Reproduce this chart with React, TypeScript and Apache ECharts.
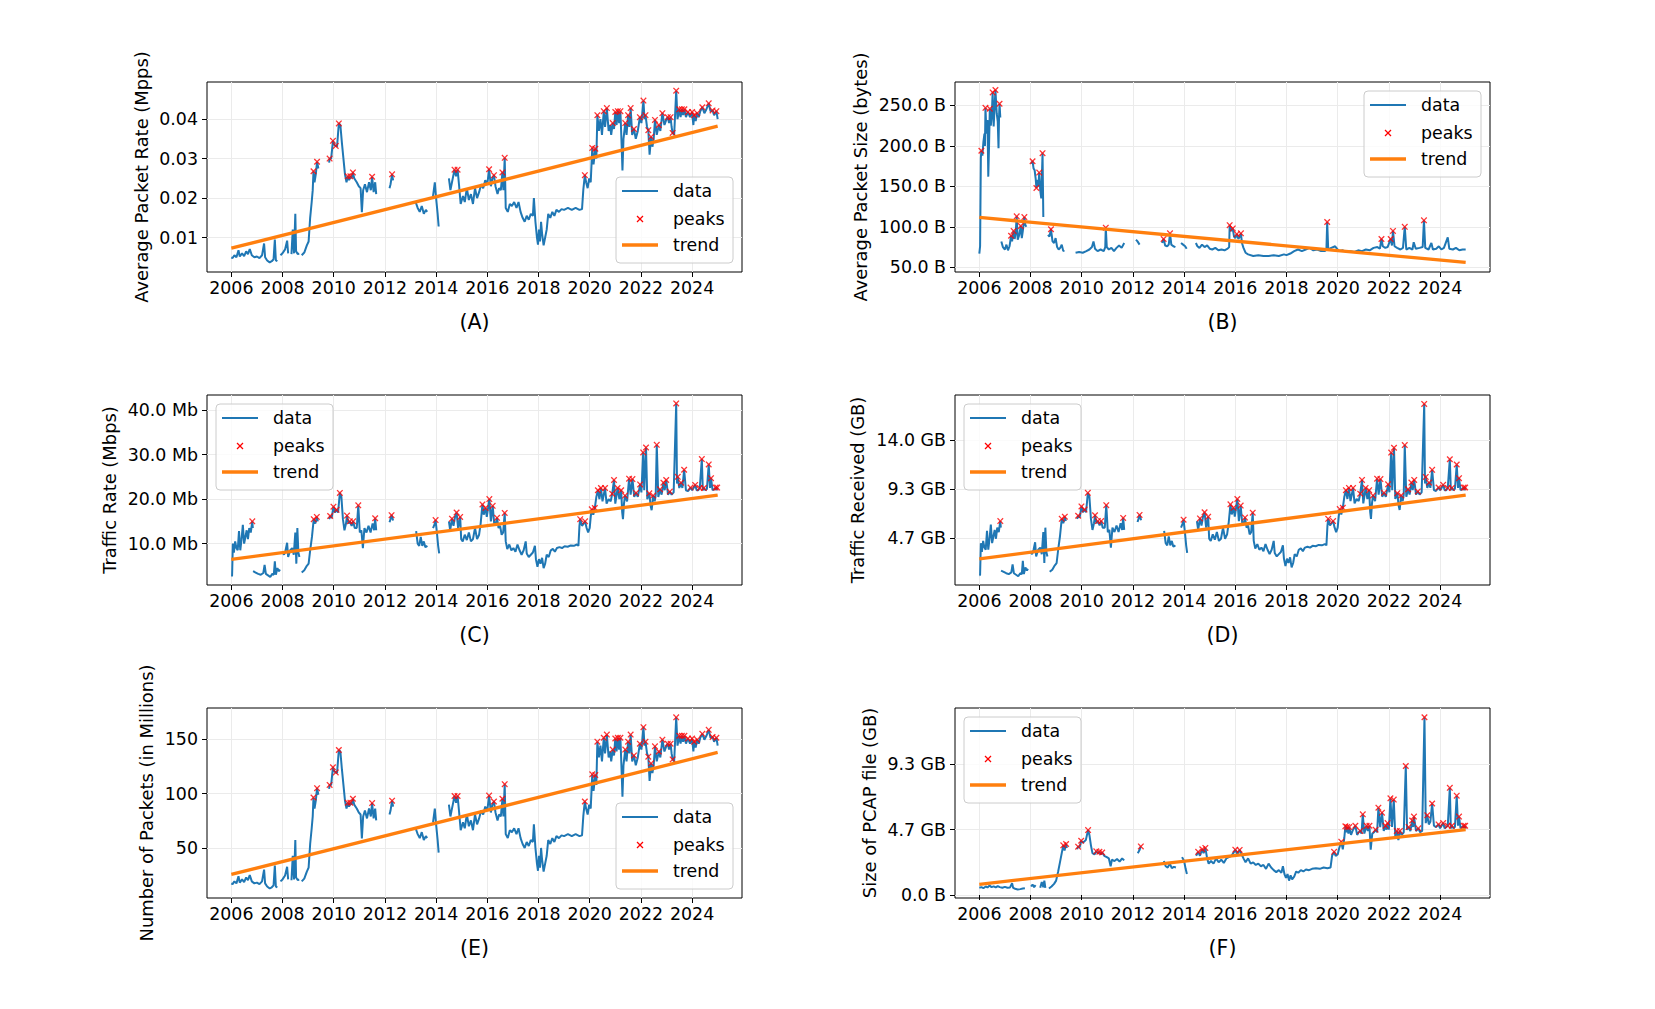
import React, { useEffect, useRef } from 'react';
import * as echarts from 'echarts';

type P = [number, number | null];

// ---------- (A) Average packet rate (Mpps) ----------
const rateA: P[] = [
[2006.00,0.0050],[2006.05,0.0048],[2006.12,0.0055],[2006.20,0.0050],[2006.28,0.0068],[2006.33,0.0052],[2006.42,0.0060],[2006.50,0.0053],[2006.58,0.0065],[2006.65,0.0058],[2006.72,0.0071],[2006.80,0.0055],[2006.90,0.0050],[2007.00,0.0052],[2007.10,0.0048],[2007.20,0.0055],[2007.28,0.0085],[2007.32,0.0050],[2007.40,0.0042],[2007.50,0.0037],[2007.58,0.0040],[2007.65,0.0045],[2007.70,0.0095],[2007.74,0.0042],[2007.80,0.0040],[2007.86,null],
[2007.92,0.0055],[2008.00,0.0060],[2008.10,0.0070],[2008.18,0.0092],[2008.22,0.0060],[2008.28,null],
[2008.35,0.0058],[2008.40,0.0120],[2008.45,0.0060],[2008.50,0.0160],[2008.53,0.0065],[2008.60,0.0058],[2008.65,0.0060],[2008.70,null],
[2008.75,0.0055],[2008.85,0.0062],[2008.95,0.0080],[2009.02,0.0090],[2009.08,0.0150],[2009.14,0.0190],[2009.18,0.0220],[2009.21,0.0268],[2009.25,0.0240],[2009.30,0.0260],[2009.35,0.0292],[2009.40,0.0275],[2009.60,null],
[2009.82,0.0290],[2009.84,0.0300],[2009.90,0.0300],[2009.97,0.0345],[2010.02,0.0335],[2010.08,0.0332],[2010.13,0.0330],[2010.20,0.0389],[2010.26,0.0385],[2010.32,0.0340],[2010.38,0.0300],[2010.44,0.0260],[2010.50,0.0240],[2010.55,0.0255],[2010.60,0.0245],[2010.65,0.0255],[2010.70,0.0250],[2010.75,0.0265],[2010.80,0.0250],[2010.90,0.0240],[2010.98,0.0230],[2011.05,0.0225],[2011.10,0.0164],[2011.15,0.0220],[2011.22,0.0235],[2011.30,0.0215],[2011.38,0.0240],[2011.45,0.0220],[2011.50,0.0254],[2011.56,0.0215],[2011.62,0.0240],[2011.66,0.0210],[2011.90,null],
[2012.18,0.0225],[2012.22,0.0235],[2012.28,0.0260],[2012.32,0.0245],[2012.80,null],
[2013.20,0.0190],[2013.28,0.0175],[2013.36,0.0165],[2013.44,0.0180],[2013.52,0.0160],[2013.60,0.0170],[2013.65,0.0165],[2013.80,null],
[2013.88,0.0205],[2013.95,0.0240],[2014.00,0.0200],[2014.06,0.0160],[2014.10,0.0128],[2014.30,null],
[2014.50,0.0250],[2014.56,0.0220],[2014.62,0.0240],[2014.72,0.0272],[2014.78,0.0255],[2014.84,0.0272],[2014.90,0.0230],[2014.96,0.0185],[2015.05,0.0205],[2015.12,0.0190],[2015.20,0.0225],[2015.28,0.0195],[2015.36,0.0210],[2015.44,0.0185],[2015.52,0.0225],[2015.60,0.0200],[2015.68,0.0215],[2015.76,0.0235],[2015.84,0.0225],[2015.92,0.0245],[2016.00,0.0235],[2016.07,0.0273],[2016.14,0.0230],[2016.20,0.0250],[2016.26,0.0258],[2016.32,0.0230],[2016.40,0.0210],[2016.46,0.0225],[2016.53,0.0220],[2016.59,0.0265],[2016.63,0.0220],[2016.68,0.0302],[2016.72,0.0175],[2016.80,0.0165],[2016.88,0.0185],[2016.96,0.0180],[2017.05,0.0190],[2017.14,0.0175],[2017.22,0.0190],[2017.30,0.0165],[2017.38,0.0150],[2017.46,0.0140],[2017.54,0.0155],[2017.62,0.0145],[2017.70,0.0160],[2017.78,0.0155],[2017.82,0.0200],[2017.88,0.0140],[2017.94,0.0100],[2017.98,0.0082],[2018.02,0.0120],[2018.06,0.0090],[2018.10,0.0140],[2018.14,0.0110],[2018.20,0.0080],[2018.26,0.0100],[2018.32,0.0120],[2018.38,0.0160],[2018.46,0.0150],[2018.54,0.0165],[2018.62,0.0155],[2018.70,0.0170],[2018.80,0.0165],[2018.90,0.0172],[2019.00,0.0170],[2019.15,0.0175],[2019.30,0.0170],[2019.45,0.0175],[2019.60,0.0170],[2019.70,0.0172],[2019.75,0.0220],[2019.81,0.0258],[2019.86,0.0240],[2019.92,0.0225],[2019.98,0.0250],[2020.04,0.0240],[2020.10,0.0327],[2020.15,0.0285],[2020.22,0.0325],[2020.26,0.0300],[2020.30,0.0410],[2020.36,0.0370],[2020.42,0.0400],[2020.48,0.0360],[2020.55,0.0420],[2020.60,0.0380],[2020.67,0.0428],[2020.74,0.0370],[2020.80,0.0385],[2020.84,0.0360],[2020.90,0.0390],[2020.95,0.0375],[2021.00,0.0418],[2021.05,0.0385],[2021.10,0.0420],[2021.15,0.0390],[2021.20,0.0420],[2021.25,0.0330],[2021.28,0.0270],[2021.32,0.0350],[2021.39,0.0390],[2021.44,0.0360],[2021.50,0.0410],[2021.55,0.0380],[2021.60,0.0428],[2021.66,0.0360],[2021.73,0.0375],[2021.80,0.0350],[2021.88,0.0370],[2021.96,0.0405],[2022.02,0.0390],[2022.10,0.0447],[2022.14,0.0400],[2022.18,0.0410],[2022.24,0.0380],[2022.29,0.0372],[2022.34,0.0310],[2022.40,0.0355],[2022.45,0.0330],[2022.50,0.0350],[2022.55,0.0398],[2022.62,0.0360],[2022.70,0.0385],[2022.76,0.0370],[2022.84,0.0415],[2022.92,0.0385],[2023.00,0.0400],[2023.05,0.0405],[2023.10,0.0390],[2023.16,0.0405],[2023.20,0.0380],[2023.24,0.0365],[2023.30,0.0360],[2023.38,0.0472],[2023.43,0.0400],[2023.50,0.0425],[2023.55,0.0405],[2023.60,0.0425],[2023.65,0.0410],[2023.70,0.0425],[2023.76,0.0405],[2023.84,0.0418],[2023.92,0.0405],[2024.00,0.0418],[2024.05,0.0385],[2024.08,0.0410],[2024.14,0.0395],[2024.20,0.0415],[2024.26,0.0405],[2024.32,0.0420],[2024.40,0.0430],[2024.48,0.0415],[2024.56,0.0425],[2024.65,0.0440],[2024.72,0.0420],[2024.80,0.0422],[2024.86,0.0410],[2024.95,0.0420],[2025.00,0.0400]
];
const peaksA: P[] = [
[2009.21,0.0268],[2009.35,0.0292],[2009.84,0.0300],[2009.97,0.0345],[2010.08,0.0332],[2010.20,0.0389],[2010.55,0.0255],[2010.65,0.0255],[2010.75,0.0265],[2011.50,0.0254],[2012.28,0.0260],[2014.72,0.0272],[2014.84,0.0272],[2016.07,0.0273],[2016.26,0.0258],[2016.59,0.0265],[2016.68,0.0302],[2019.81,0.0258],[2020.10,0.0327],[2020.22,0.0325],[2020.30,0.0410],[2020.55,0.0420],[2020.67,0.0428],[2020.90,0.0390],[2021.00,0.0418],[2021.10,0.0420],[2021.20,0.0420],[2021.39,0.0390],[2021.50,0.0410],[2021.60,0.0428],[2021.73,0.0375],[2021.96,0.0405],[2022.10,0.0447],[2022.18,0.0410],[2022.29,0.0372],[2022.40,0.0355],[2022.55,0.0398],[2022.70,0.0385],[2022.84,0.0415],[2023.05,0.0405],[2023.16,0.0405],[2023.24,0.0365],[2023.38,0.0472],[2023.50,0.0425],[2023.60,0.0425],[2023.70,0.0425],[2023.84,0.0418],[2024.00,0.0418],[2024.08,0.0410],[2024.20,0.0415],[2024.40,0.0430],[2024.65,0.0440],[2024.80,0.0422],[2024.95,0.0420]
];
const trendA: P[] = [[2006.0,0.0073],[2025.0,0.0382]];

// ---------- (B) Average packet size (bytes) ----------
const sizeB: P[] = [
[2006.00,67],[2006.03,76],[2006.06,185],[2006.08,194],[2006.12,188],[2006.16,205],[2006.20,215],[2006.22,200],[2006.24,247],[2006.28,215],[2006.32,232],[2006.35,162],[2006.38,200],[2006.41,246],[2006.45,225],[2006.49,240],[2006.52,266],[2006.56,224],[2006.60,250],[2006.63,269],[2006.68,240],[2006.72,230],[2006.75,197],[2006.77,235],[2006.79,252],[2006.82,235],[2006.84,null],
[2006.86,82],[2006.92,75],[2007.00,72],[2007.06,78],[2007.12,71],[2007.18,76],[2007.22,84],[2007.24,89],[2007.28,82],[2007.34,95],[2007.38,85],[2007.42,92],[2007.46,113],[2007.50,84],[2007.56,90],[2007.62,101],[2007.66,86],[2007.70,95],[2007.76,112],[2007.80,102],[2007.84,100],[2007.90,null],
[2008.03,178],[2008.08,181],[2008.12,172],[2008.16,170],[2008.20,160],[2008.23,148],[2008.27,158],[2008.31,150],[2008.34,167],[2008.38,145],[2008.42,135],[2008.47,191],[2008.50,112],[2008.60,null],
[2008.68,90],[2008.74,88],[2008.80,97],[2008.86,82],[2008.92,80],[2008.98,86],[2009.04,75],[2009.10,72],[2009.16,74],[2009.22,78],[2009.28,70],[2009.32,71],[2009.50,null],
[2009.76,68],[2009.90,69],[2010.04,68],[2010.18,70],[2010.30,72],[2010.40,75],[2010.46,82],[2010.52,73],[2010.62,70],[2010.74,72],[2010.86,70],[2010.92,75],[2010.94,99],[2010.98,75],[2011.06,72],[2011.16,74],[2011.26,70],[2011.36,74],[2011.46,77],[2011.56,74],[2011.66,80],[2011.90,null],
[2012.12,84],[2012.18,82],[2012.26,78],[2012.60,null],
[2013.14,80],[2013.20,85],[2013.26,77],[2013.34,76],[2013.40,78],[2013.45,92],[2013.50,78],[2013.58,76],[2013.66,75],[2013.78,null],
[2013.88,80],[2013.96,78],[2014.04,76],[2014.10,73],[2014.30,null],
[2014.46,80],[2014.52,76],[2014.60,74],[2014.70,78],[2014.80,75],[2014.90,77],[2015.00,73],[2015.10,72],[2015.22,74],[2015.34,71],[2015.46,72],[2015.58,71],[2015.70,73],[2015.76,75],[2015.78,102],[2015.84,95],[2015.90,98],[2015.95,88],[2016.00,86],[2016.06,91],[2016.12,85],[2016.18,88],[2016.22,92],[2016.26,80],[2016.32,74],[2016.40,68],[2016.50,66],[2016.70,64],[2016.90,65],[2017.10,64],[2017.30,64],[2017.50,65],[2017.70,64],[2017.90,66],[2018.00,65],[2018.15,67],[2018.30,70],[2018.45,72],[2018.60,70],[2018.75,72],[2018.90,74],[2019.05,71],[2019.20,72],[2019.35,70],[2019.50,70],[2019.56,72],[2019.59,106],[2019.63,72],[2019.75,74],[2019.90,76],[2020.05,70],[2020.20,71],[2020.35,69],[2020.50,70],[2020.65,69],[2020.80,71],[2020.95,70],[2021.10,72],[2021.25,71],[2021.40,74],[2021.55,75],[2021.65,73],[2021.71,85],[2021.76,76],[2021.86,74],[2021.95,75],[2022.07,85],[2022.12,77],[2022.16,95],[2022.22,76],[2022.32,74],[2022.45,72],[2022.55,74],[2022.62,100],[2022.68,72],[2022.80,74],[2022.92,72],[2022.97,81],[2023.05,73],[2023.20,74],[2023.32,75],[2023.37,108],[2023.42,74],[2023.55,72],[2023.66,80],[2023.72,72],[2023.85,73],[2023.95,76],[2024.05,72],[2024.15,74],[2024.30,87],[2024.36,73],[2024.50,72],[2024.62,74],[2024.75,71],[2024.88,72],[2025.00,72]
];
const peaksB: P[] = [
[2006.08,194],[2006.24,247],[2006.41,246],[2006.52,266],[2006.63,269],[2006.79,252],[2007.24,89],[2007.34,95],[2007.46,113],[2007.62,101],[2007.76,112],[2008.08,181],[2008.23,148],[2008.34,167],[2008.47,191],[2008.80,97],[2010.94,99],[2013.20,85],[2013.45,92],[2015.78,102],[2015.90,98],[2016.06,91],[2016.22,92],[2019.59,106],[2021.71,85],[2022.07,85],[2022.16,95],[2022.62,100],[2023.37,108]
];
const trendB: P[] = [[2006.0,111.6],[2025.0,56.0]];

// ---------- (C) Traffic rate (Mbps) ----------
const rateC: P[] = [
[2006.00,2.7],[2006.03,2.8],[2006.06,10.0],[2006.10,8.0],[2006.15,10.5],[2006.20,9.0],[2006.25,8.5],[2006.30,12.8],[2006.35,8.5],[2006.40,11.0],[2006.45,14.2],[2006.50,10.0],[2006.55,11.5],[2006.60,13.0],[2006.65,11.0],[2006.70,13.5],[2006.76,12.5],[2006.82,15.0],[2006.84,13.5],[2006.845,null],
[2006.85,3.8],[2006.95,3.5],[2007.05,3.2],[2007.15,3.0],[2007.25,3.4],[2007.30,5.2],[2007.35,3.2],[2007.45,2.8],[2007.52,2.5],[2007.60,3.2],[2007.66,3.0],[2007.70,6.0],[2007.74,3.0],[2007.80,4.5],[2007.86,3.8],[2007.90,4.2],[2007.95,null],
[2008.00,8.0],[2008.06,7.5],[2008.12,8.5],[2008.18,10.2],[2008.22,7.0],[2008.30,8.5],[2008.38,9.0],[2008.44,7.5],[2008.50,12.5],[2008.54,5.5],[2008.58,13.5],[2008.62,8.0],[2008.66,7.0],[2008.70,null],
[2008.75,3.5],[2008.85,4.0],[2008.95,5.0],[2009.02,5.5],[2009.08,8.5],[2009.15,11.5],[2009.22,15.5],[2009.28,14.5],[2009.34,16.0],[2009.38,15.0],[2009.60,null],
[2009.82,15.5],[2009.86,16.2],[2009.92,15.8],[2009.99,18.3],[2010.05,17.0],[2010.11,17.6],[2010.17,17.0],[2010.24,21.4],[2010.30,20.5],[2010.36,15.5],[2010.42,13.0],[2010.48,14.5],[2010.52,16.3],[2010.58,14.5],[2010.63,15.0],[2010.70,14.0],[2010.76,15.0],[2010.82,13.5],[2010.90,13.5],[2010.96,18.6],[2011.02,12.5],[2011.08,13.0],[2011.14,9.0],[2011.20,13.5],[2011.28,12.5],[2011.36,14.0],[2011.44,12.5],[2011.52,14.5],[2011.58,13.0],[2011.62,15.7],[2011.66,13.0],[2011.90,null],
[2012.18,14.8],[2012.22,15.5],[2012.26,16.4],[2012.32,15.2],[2012.80,null],
[2013.22,12.8],[2013.28,10.0],[2013.34,9.5],[2013.40,11.5],[2013.46,9.5],[2013.52,10.5],[2013.58,9.2],[2013.66,9.5],[2013.78,null],
[2013.88,13.5],[2013.95,14.5],[2013.98,15.3],[2014.04,12.0],[2014.08,9.5],[2014.12,7.8],[2014.30,null],
[2014.50,15.0],[2014.55,13.0],[2014.62,15.6],[2014.68,14.0],[2014.74,16.0],[2014.80,17.0],[2014.86,13.5],[2014.94,16.0],[2014.98,11.0],[2015.04,10.5],[2015.12,12.0],[2015.20,10.8],[2015.28,12.5],[2015.36,10.5],[2015.44,11.0],[2015.52,13.5],[2015.60,11.0],[2015.68,12.0],[2015.74,14.5],[2015.81,18.8],[2015.86,16.5],[2015.93,18.0],[2015.98,16.0],[2016.08,20.0],[2016.14,15.0],[2016.21,18.5],[2016.27,14.5],[2016.33,14.5],[2016.38,15.8],[2016.44,13.5],[2016.50,14.0],[2016.56,12.0],[2016.62,12.5],[2016.68,16.9],[2016.72,10.5],[2016.78,8.8],[2016.86,9.8],[2016.94,8.5],[2017.02,9.0],[2017.10,8.2],[2017.18,9.8],[2017.26,8.5],[2017.34,7.5],[2017.42,8.5],[2017.50,10.5],[2017.54,7.8],[2017.62,7.0],[2017.70,7.5],[2017.78,8.0],[2017.86,9.5],[2017.90,6.5],[2017.96,4.8],[2018.02,6.5],[2018.08,5.5],[2018.14,6.8],[2018.20,4.5],[2018.26,5.5],[2018.32,7.5],[2018.40,7.0],[2018.48,8.5],[2018.56,8.8],[2018.64,8.2],[2018.72,9.0],[2018.82,9.2],[2018.92,9.0],[2019.02,9.4],[2019.14,9.3],[2019.26,9.6],[2019.38,9.5],[2019.50,9.8],[2019.56,9.5],[2019.60,14.0],[2019.63,15.5],[2019.70,14.0],[2019.76,14.5],[2019.82,15.0],[2019.88,13.5],[2019.94,12.5],[2020.00,13.5],[2020.04,16.0],[2020.08,17.7],[2020.14,16.5],[2020.20,18.0],[2020.26,20.5],[2020.32,22.0],[2020.38,20.0],[2020.44,22.5],[2020.50,19.5],[2020.55,21.0],[2020.60,22.5],[2020.66,19.0],[2020.74,20.0],[2020.82,19.5],[2020.88,21.2],[2020.95,24.3],[2021.00,19.0],[2021.04,20.5],[2021.09,22.5],[2021.16,20.0],[2021.23,22.0],[2021.27,17.0],[2021.30,15.5],[2021.34,19.0],[2021.38,20.8],[2021.46,19.5],[2021.54,24.6],[2021.60,21.0],[2021.67,24.5],[2021.74,20.5],[2021.81,21.4],[2021.88,20.5],[2021.97,23.3],[2022.02,21.5],[2022.09,30.5],[2022.13,22.0],[2022.20,31.6],[2022.25,20.0],[2022.33,21.3],[2022.38,18.5],[2022.42,17.5],[2022.48,20.8],[2022.54,19.5],[2022.58,21.0],[2022.62,32.2],[2022.68,20.5],[2022.75,22.2],[2022.81,21.0],[2022.88,23.7],[2022.93,22.0],[2022.99,24.3],[2023.06,21.0],[2023.13,21.7],[2023.20,21.0],[2023.28,21.5],[2023.38,41.5],[2023.41,23.5],[2023.44,25.0],[2023.50,22.5],[2023.57,23.7],[2023.62,22.5],[2023.69,26.6],[2023.76,22.0],[2023.84,21.8],[2023.94,22.6],[2024.00,22.0],[2024.06,22.5],[2024.12,23.2],[2024.18,22.0],[2024.24,22.0],[2024.30,22.5],[2024.38,29.0],[2024.42,22.0],[2024.46,22.5],[2024.52,22.0],[2024.58,22.3],[2024.65,27.8],[2024.70,22.5],[2024.74,24.7],[2024.80,22.0],[2024.86,22.2],[2024.92,22.6],[2024.95,22.0],[2024.98,22.6],[2025.00,22.3]
];
const peaksC: P[] = [
[2006.82,15.0],[2009.22,15.5],[2009.34,16.0],[2009.86,16.2],[2009.99,18.3],[2010.11,17.6],[2010.24,21.4],[2010.52,16.3],[2010.63,15.0],[2010.76,15.0],[2010.96,18.6],[2011.62,15.7],[2012.26,16.4],[2013.98,15.3],[2014.62,15.6],[2014.80,17.0],[2014.94,16.0],[2015.81,18.8],[2015.93,18.0],[2016.08,20.0],[2016.21,18.5],[2016.38,15.8],[2016.68,16.9],[2019.63,15.5],[2019.82,15.0],[2020.08,17.7],[2020.20,18.0],[2020.32,22.0],[2020.44,22.5],[2020.60,22.5],[2020.88,21.2],[2020.95,24.3],[2021.09,22.5],[2021.23,22.0],[2021.38,20.8],[2021.54,24.6],[2021.67,24.5],[2021.81,21.4],[2021.97,23.3],[2022.09,30.5],[2022.20,31.6],[2022.33,21.3],[2022.48,20.8],[2022.62,32.2],[2022.75,22.2],[2022.88,23.7],[2022.99,24.3],[2023.13,21.7],[2023.38,41.5],[2023.44,25.0],[2023.57,23.7],[2023.69,26.6],[2023.94,22.6],[2024.12,23.2],[2024.30,22.5],[2024.38,29.0],[2024.46,22.5],[2024.65,27.8],[2024.74,24.7],[2024.92,22.6],[2024.98,22.6]
];
const trendC: P[] = [[2006.0,6.45],[2025.0,20.9]];

// ---------- (D) Traffic received (1e9 bytes) ----------
const recvD: P[] = [
[2006.00,1.22],[2006.03,1.26],[2006.06,4.50],[2006.10,3.60],[2006.15,4.73],[2006.20,4.05],[2006.25,3.83],[2006.30,5.76],[2006.35,3.83],[2006.40,4.95],[2006.45,6.39],[2006.50,4.50],[2006.55,5.18],[2006.60,5.85],[2006.65,4.95],[2006.70,6.08],[2006.76,5.63],[2006.82,6.75],[2006.84,6.08],[2006.845,null],
[2006.85,1.71],[2006.95,1.58],[2007.05,1.44],[2007.15,1.35],[2007.25,1.53],[2007.30,2.34],[2007.35,1.44],[2007.45,1.26],[2007.52,1.13],[2007.60,1.44],[2007.66,1.35],[2007.70,2.70],[2007.74,1.35],[2007.80,2.03],[2007.86,1.71],[2007.90,1.89],[2007.95,null],
[2008.00,3.60],[2008.06,3.38],[2008.12,3.83],[2008.18,4.59],[2008.22,3.15],[2008.30,3.83],[2008.38,4.05],[2008.44,3.38],[2008.50,5.63],[2008.54,2.48],[2008.58,6.08],[2008.62,3.60],[2008.66,3.15],[2008.70,null],
[2008.75,1.58],[2008.85,1.80],[2008.95,2.25],[2009.02,2.48],[2009.08,3.83],[2009.15,5.18],[2009.22,6.98],[2009.28,6.53],[2009.34,7.20],[2009.38,6.75],[2009.60,null],
[2009.82,6.98],[2009.86,7.29],[2009.92,7.11],[2009.99,8.24],[2010.05,7.65],[2010.11,7.92],[2010.17,7.65],[2010.24,9.63],[2010.30,9.23],[2010.36,6.98],[2010.42,5.85],[2010.48,6.53],[2010.52,7.34],[2010.58,6.53],[2010.63,6.75],[2010.70,6.30],[2010.76,6.75],[2010.82,6.08],[2010.90,6.08],[2010.96,8.37],[2011.02,5.63],[2011.08,5.85],[2011.14,4.05],[2011.20,6.08],[2011.28,5.63],[2011.36,6.30],[2011.44,5.63],[2011.52,6.53],[2011.58,5.85],[2011.62,7.07],[2011.66,5.85],[2011.90,null],
[2012.18,6.66],[2012.22,6.98],[2012.26,7.38],[2012.32,6.84],[2012.80,null],
[2013.22,5.76],[2013.28,4.50],[2013.34,4.28],[2013.40,5.18],[2013.46,4.28],[2013.52,4.73],[2013.58,4.14],[2013.66,4.28],[2013.78,null],
[2013.88,6.08],[2013.95,6.53],[2013.98,6.89],[2014.04,5.40],[2014.08,4.28],[2014.12,3.51],[2014.30,null],
[2014.50,6.75],[2014.55,5.85],[2014.62,7.02],[2014.68,6.30],[2014.74,7.20],[2014.80,7.65],[2014.86,6.08],[2014.94,7.20],[2014.98,4.95],[2015.04,4.73],[2015.12,5.40],[2015.20,4.86],[2015.28,5.63],[2015.36,4.73],[2015.44,4.95],[2015.52,6.08],[2015.60,4.95],[2015.68,5.40],[2015.74,6.53],[2015.81,8.46],[2015.86,7.43],[2015.93,8.10],[2015.98,7.20],[2016.08,9.00],[2016.14,6.75],[2016.21,8.33],[2016.27,6.53],[2016.33,6.53],[2016.38,7.11],[2016.44,6.08],[2016.50,6.30],[2016.56,5.40],[2016.62,5.63],[2016.68,7.61],[2016.72,4.73],[2016.78,3.96],[2016.86,4.41],[2016.94,3.83],[2017.02,4.05],[2017.10,3.69],[2017.18,4.41],[2017.26,3.83],[2017.34,3.38],[2017.42,3.83],[2017.50,4.73],[2017.54,3.51],[2017.62,3.15],[2017.70,3.38],[2017.78,3.60],[2017.86,4.28],[2017.90,2.93],[2017.96,2.16],[2018.02,2.93],[2018.08,2.48],[2018.14,3.06],[2018.20,2.03],[2018.26,2.48],[2018.32,3.38],[2018.40,3.15],[2018.48,3.83],[2018.56,3.96],[2018.64,3.69],[2018.72,4.05],[2018.82,4.14],[2018.92,4.05],[2019.02,4.23],[2019.14,4.19],[2019.26,4.32],[2019.38,4.28],[2019.50,4.41],[2019.56,4.28],[2019.60,6.30],[2019.63,6.98],[2019.70,6.30],[2019.76,6.53],[2019.82,6.75],[2019.88,6.08],[2019.94,5.63],[2020.00,6.08],[2020.04,7.20],[2020.08,7.97],[2020.14,7.43],[2020.20,8.10],[2020.26,9.23],[2020.32,9.90],[2020.38,9.00],[2020.44,10.13],[2020.50,8.78],[2020.55,9.45],[2020.60,10.13],[2020.66,8.55],[2020.74,9.00],[2020.82,8.78],[2020.88,9.54],[2020.95,10.94],[2021.00,8.55],[2021.04,9.23],[2021.09,10.13],[2021.16,9.00],[2021.23,9.90],[2021.27,7.65],[2021.30,6.98],[2021.34,8.55],[2021.38,9.36],[2021.46,8.78],[2021.54,11.07],[2021.60,9.45],[2021.67,11.03],[2021.74,9.23],[2021.81,9.63],[2021.88,9.23],[2021.97,10.49],[2022.02,9.68],[2022.09,13.73],[2022.13,9.90],[2022.20,14.22],[2022.25,9.00],[2022.33,9.59],[2022.38,8.33],[2022.42,7.88],[2022.48,9.36],[2022.54,8.78],[2022.58,9.45],[2022.62,14.49],[2022.68,9.23],[2022.75,9.99],[2022.81,9.45],[2022.88,10.67],[2022.93,9.90],[2022.99,10.94],[2023.06,9.45],[2023.13,9.77],[2023.20,9.45],[2023.28,9.68],[2023.38,18.68],[2023.41,10.58],[2023.44,11.25],[2023.50,10.13],[2023.57,10.67],[2023.62,10.13],[2023.69,11.97],[2023.76,9.90],[2023.84,9.81],[2023.94,10.17],[2024.00,9.90],[2024.06,10.13],[2024.12,10.44],[2024.18,9.90],[2024.24,9.90],[2024.30,10.13],[2024.38,13.05],[2024.42,9.90],[2024.46,10.13],[2024.52,9.90],[2024.58,10.04],[2024.65,12.51],[2024.70,10.13],[2024.74,11.12],[2024.80,9.90],[2024.86,9.99],[2024.92,10.17],[2024.95,9.90],[2024.98,10.17],[2025.00,10.04]
];
const peaksD: P[] = [
[2006.82,6.75],[2009.22,6.98],[2009.34,7.20],[2009.86,7.29],[2009.99,8.24],[2010.11,7.92],[2010.24,9.63],[2010.52,7.34],[2010.63,6.75],[2010.76,6.75],[2010.96,8.37],[2011.62,7.07],[2012.26,7.38],[2013.98,6.89],[2014.62,7.02],[2014.80,7.65],[2014.94,7.20],[2015.81,8.46],[2015.93,8.10],[2016.08,9.00],[2016.21,8.33],[2016.38,7.11],[2016.68,7.61],[2019.63,6.98],[2019.82,6.75],[2020.08,7.97],[2020.20,8.10],[2020.32,9.90],[2020.44,10.13],[2020.60,10.13],[2020.88,9.54],[2020.95,10.94],[2021.09,10.13],[2021.23,9.90],[2021.38,9.36],[2021.54,11.07],[2021.67,11.03],[2021.81,9.63],[2021.97,10.49],[2022.09,13.73],[2022.20,14.22],[2022.33,9.59],[2022.48,9.36],[2022.62,14.49],[2022.75,9.99],[2022.88,10.67],[2022.99,10.94],[2023.13,9.77],[2023.38,18.68],[2023.44,11.25],[2023.57,10.67],[2023.69,11.97],[2023.94,10.17],[2024.12,10.44],[2024.30,10.13],[2024.38,13.05],[2024.46,10.13],[2024.65,12.51],[2024.74,11.12],[2024.92,10.17],[2024.98,10.17]
];
const trendD: P[] = [[2006.0,2.90],[2025.0,9.40]];

// ---------- (E) Number of packets (millions) ----------
const packetsE: P[] = [
[2006.00,18.0],[2006.05,17.3],[2006.12,19.8],[2006.20,18.0],[2006.28,24.5],[2006.33,18.7],[2006.42,21.6],[2006.50,19.1],[2006.58,23.4],[2006.65,20.9],[2006.72,25.6],[2006.80,19.8],[2006.90,18.0],[2007.00,18.7],[2007.10,17.3],[2007.20,19.8],[2007.28,30.6],[2007.32,18.0],[2007.40,15.1],[2007.50,13.3],[2007.58,14.4],[2007.65,16.2],[2007.70,34.2],[2007.74,15.1],[2007.80,14.4],[2007.86,null],
[2007.92,19.8],[2008.00,21.6],[2008.10,25.2],[2008.18,33.1],[2008.22,21.6],[2008.28,null],
[2008.35,20.9],[2008.40,43.2],[2008.45,21.6],[2008.50,57.6],[2008.53,23.4],[2008.60,20.9],[2008.65,21.6],[2008.70,null],
[2008.75,19.8],[2008.85,22.3],[2008.95,28.8],[2009.02,32.4],[2009.08,54.0],[2009.14,68.4],[2009.18,79.2],[2009.21,96.5],[2009.25,86.4],[2009.30,93.6],[2009.35,105.1],[2009.40,99.0],[2009.60,null],
[2009.82,104.4],[2009.84,108.0],[2009.90,108.0],[2009.97,124.2],[2010.02,120.6],[2010.08,119.5],[2010.13,118.8],[2010.20,140.0],[2010.26,138.6],[2010.32,122.4],[2010.38,108.0],[2010.44,93.6],[2010.50,86.4],[2010.55,91.8],[2010.60,88.2],[2010.65,91.8],[2010.70,90.0],[2010.75,95.4],[2010.80,90.0],[2010.90,86.4],[2010.98,82.8],[2011.05,81.0],[2011.10,59.0],[2011.15,79.2],[2011.22,84.6],[2011.30,77.4],[2011.38,86.4],[2011.45,79.2],[2011.50,91.4],[2011.56,77.4],[2011.62,86.4],[2011.66,75.6],[2011.90,null],
[2012.18,81.0],[2012.22,84.6],[2012.28,93.6],[2012.32,88.2],[2012.80,null],
[2013.20,68.4],[2013.28,63.0],[2013.36,59.4],[2013.44,64.8],[2013.52,57.6],[2013.60,61.2],[2013.65,59.4],[2013.80,null],
[2013.88,73.8],[2013.95,86.4],[2014.00,72.0],[2014.06,57.6],[2014.10,46.1],[2014.30,null],
[2014.50,90.0],[2014.56,79.2],[2014.62,86.4],[2014.72,97.9],[2014.78,91.8],[2014.84,97.9],[2014.90,82.8],[2014.96,66.6],[2015.05,73.8],[2015.12,68.4],[2015.20,81.0],[2015.28,70.2],[2015.36,75.6],[2015.44,66.6],[2015.52,81.0],[2015.60,72.0],[2015.68,77.4],[2015.76,84.6],[2015.84,81.0],[2015.92,88.2],[2016.00,84.6],[2016.07,98.3],[2016.14,82.8],[2016.20,90.0],[2016.26,92.9],[2016.32,82.8],[2016.40,75.6],[2016.46,81.0],[2016.53,79.2],[2016.59,95.4],[2016.63,79.2],[2016.68,108.7],[2016.72,63.0],[2016.80,59.4],[2016.88,66.6],[2016.96,64.8],[2017.05,68.4],[2017.14,63.0],[2017.22,68.4],[2017.30,59.4],[2017.38,54.0],[2017.46,50.4],[2017.54,55.8],[2017.62,52.2],[2017.70,57.6],[2017.78,55.8],[2017.82,72.0],[2017.88,50.4],[2017.94,36.0],[2017.98,29.5],[2018.02,43.2],[2018.06,32.4],[2018.10,50.4],[2018.14,39.6],[2018.20,28.8],[2018.26,36.0],[2018.32,43.2],[2018.38,57.6],[2018.46,54.0],[2018.54,59.4],[2018.62,55.8],[2018.70,61.2],[2018.80,59.4],[2018.90,61.9],[2019.00,61.2],[2019.15,63.0],[2019.30,61.2],[2019.45,63.0],[2019.60,61.2],[2019.70,61.9],[2019.75,79.2],[2019.81,92.9],[2019.86,86.4],[2019.92,81.0],[2019.98,90.0],[2020.04,86.4],[2020.10,117.7],[2020.15,102.6],[2020.22,117.0],[2020.26,108.0],[2020.30,147.6],[2020.36,133.2],[2020.42,144.0],[2020.48,129.6],[2020.55,151.2],[2020.60,136.8],[2020.67,154.1],[2020.74,133.2],[2020.80,138.6],[2020.84,129.6],[2020.90,140.4],[2020.95,135.0],[2021.00,150.5],[2021.05,138.6],[2021.10,151.2],[2021.15,140.4],[2021.20,151.2],[2021.25,118.8],[2021.28,97.2],[2021.32,126.0],[2021.39,140.4],[2021.44,129.6],[2021.50,147.6],[2021.55,136.8],[2021.60,154.1],[2021.66,129.6],[2021.73,135.0],[2021.80,126.0],[2021.88,133.2],[2021.96,145.8],[2022.02,140.4],[2022.10,160.9],[2022.14,144.0],[2022.18,147.6],[2022.24,136.8],[2022.29,133.9],[2022.34,111.6],[2022.40,127.8],[2022.45,118.8],[2022.50,126.0],[2022.55,143.3],[2022.62,129.6],[2022.70,138.6],[2022.76,133.2],[2022.84,149.4],[2022.92,138.6],[2023.00,144.0],[2023.05,145.8],[2023.10,140.4],[2023.16,145.8],[2023.20,136.8],[2023.24,131.4],[2023.30,129.6],[2023.38,169.9],[2023.43,144.0],[2023.50,153.0],[2023.55,145.8],[2023.60,153.0],[2023.65,147.6],[2023.70,153.0],[2023.76,145.8],[2023.84,150.5],[2023.92,145.8],[2024.00,150.5],[2024.05,138.6],[2024.08,147.6],[2024.14,142.2],[2024.20,149.4],[2024.26,145.8],[2024.32,151.2],[2024.40,154.8],[2024.48,149.4],[2024.56,153.0],[2024.65,158.4],[2024.72,151.2],[2024.80,151.9],[2024.86,147.6],[2024.95,151.2],[2025.00,144.0]
];
const peaksE: P[] = [
[2009.21,96.5],[2009.35,105.1],[2009.84,108.0],[2009.97,124.2],[2010.08,119.5],[2010.20,140.0],[2010.55,91.8],[2010.65,91.8],[2010.75,95.4],[2011.50,91.4],[2012.28,93.6],[2014.72,97.9],[2014.84,97.9],[2016.07,98.3],[2016.26,92.9],[2016.59,95.4],[2016.68,108.7],[2019.81,92.9],[2020.10,117.7],[2020.22,117.0],[2020.30,147.6],[2020.55,151.2],[2020.67,154.1],[2020.90,140.4],[2021.00,150.5],[2021.10,151.2],[2021.20,151.2],[2021.39,140.4],[2021.50,147.6],[2021.60,154.1],[2021.73,135.0],[2021.96,145.8],[2022.10,160.9],[2022.18,147.6],[2022.29,133.9],[2022.40,127.8],[2022.55,143.3],[2022.70,138.6],[2022.84,149.4],[2023.05,145.8],[2023.16,145.8],[2023.24,131.4],[2023.38,169.9],[2023.50,153.0],[2023.60,153.0],[2023.70,153.0],[2023.84,150.5],[2024.00,150.5],[2024.08,147.6],[2024.20,149.4],[2024.40,154.8],[2024.65,158.4],[2024.80,151.9],[2024.95,151.2]
];
const trendE: P[] = [[2006.0,26.2],[2025.0,137.8]];

// ---------- (F) Size of PCAP file (1e9 bytes) ----------
const pcapF: P[] = [
[2006.00,0.55],[2006.08,0.60],[2006.16,0.52],[2006.25,0.65],[2006.32,0.58],[2006.40,0.72],[2006.48,0.60],[2006.56,0.66],[2006.64,0.58],[2006.72,0.68],[2006.80,0.60],[2006.90,0.55],[2007.00,0.62],[2007.10,0.55],[2007.20,0.58],[2007.28,0.90],[2007.32,0.55],[2007.40,0.48],[2007.50,0.42],[2007.60,0.45],[2007.70,0.50],[2007.78,0.52],[2007.90,null],
[2008.02,0.65],[2008.08,0.80],[2008.14,0.60],[2008.20,0.75],[2008.28,null],
[2008.38,0.55],[2008.44,1.00],[2008.50,0.60],[2008.54,1.10],[2008.58,0.55],[2008.65,null],
[2008.72,0.50],[2008.82,0.65],[2008.92,0.85],[2009.00,1.10],[2009.08,1.80],[2009.15,2.50],[2009.22,3.20],[2009.28,3.80],[2009.33,3.40],[2009.39,3.90],[2009.42,3.60],[2009.60,null],
[2009.82,3.50],[2009.86,3.70],[2009.92,3.65],[2009.98,4.15],[2010.04,4.00],[2010.10,4.10],[2010.16,4.20],[2010.25,4.97],[2010.30,4.60],[2010.36,3.80],[2010.42,3.20],[2010.50,3.10],[2010.57,3.34],[2010.63,3.20],[2010.69,3.30],[2010.74,3.10],[2010.80,3.25],[2010.88,3.00],[2010.98,2.90],[2011.06,2.80],[2011.13,2.20],[2011.18,2.70],[2011.28,2.60],[2011.38,2.75],[2011.48,2.55],[2011.58,2.80],[2011.66,2.65],[2011.90,null],
[2012.19,3.20],[2012.25,3.40],[2012.31,3.72],[2012.60,null],
[2013.21,2.60],[2013.28,2.20],[2013.36,2.10],[2013.44,2.40],[2013.52,2.05],[2013.60,2.15],[2013.68,2.10],[2013.80,null],
[2013.92,2.90],[2014.00,2.60],[2014.06,2.00],[2014.11,1.60],[2014.30,null],
[2014.47,3.00],[2014.55,3.30],[2014.62,3.00],[2014.71,3.50],[2014.76,3.20],[2014.83,3.60],[2014.90,2.80],[2014.96,2.40],[2015.05,2.60],[2015.15,2.40],[2015.25,2.80],[2015.35,2.50],[2015.45,2.70],[2015.55,2.45],[2015.65,2.80],[2015.75,2.90],[2015.85,3.00],[2015.92,3.20],[2016.00,3.47],[2016.08,3.10],[2016.17,3.45],[2016.25,3.10],[2016.32,2.80],[2016.40,2.50],[2016.50,2.80],[2016.60,2.40],[2016.70,2.50],[2016.80,2.30],[2016.90,2.40],[2017.00,2.20],[2017.10,2.30],[2017.20,2.00],[2017.30,2.40],[2017.40,2.10],[2017.50,1.90],[2017.60,1.75],[2017.70,1.90],[2017.80,1.70],[2017.86,2.20],[2017.92,1.60],[2017.98,1.30],[2018.04,1.60],[2018.10,1.10],[2018.16,1.50],[2018.22,1.20],[2018.30,1.40],[2018.38,1.80],[2018.46,1.70],[2018.56,1.90],[2018.66,1.80],[2018.76,1.95],[2018.88,1.90],[2019.00,2.00],[2019.15,2.05],[2019.30,2.00],[2019.45,2.10],[2019.60,2.05],[2019.72,2.10],[2019.78,3.00],[2019.86,3.30],[2019.92,3.00],[2020.00,3.10],[2020.06,3.60],[2020.14,4.08],[2020.20,3.50],[2020.26,4.40],[2020.30,5.26],[2020.34,4.80],[2020.37,5.20],[2020.42,4.70],[2020.45,5.20],[2020.52,4.60],[2020.60,5.00],[2020.69,5.30],[2020.76,4.60],[2020.82,4.80],[2020.88,4.90],[2020.93,4.70],[2020.98,6.17],[2021.04,4.70],[2021.13,5.30],[2021.18,4.90],[2021.24,5.30],[2021.29,3.47],[2021.35,4.70],[2021.42,4.80],[2021.48,5.00],[2021.54,4.80],[2021.59,6.68],[2021.66,5.20],[2021.73,6.30],[2021.80,4.90],[2021.87,5.30],[2021.91,5.00],[2021.95,5.50],[2022.00,5.00],[2022.06,7.40],[2022.12,5.20],[2022.19,7.30],[2022.25,4.50],[2022.31,4.90],[2022.37,4.20],[2022.43,4.90],[2022.50,4.60],[2022.58,4.80],[2022.66,9.87],[2022.71,5.00],[2022.77,5.20],[2022.84,4.90],[2022.91,5.70],[2022.95,5.20],[2022.98,6.00],[2023.06,4.90],[2023.15,5.10],[2023.22,4.80],[2023.30,4.90],[2023.39,13.60],[2023.44,5.50],[2023.50,6.10],[2023.56,5.40],[2023.62,5.60],[2023.69,7.00],[2023.76,5.30],[2023.84,5.20],[2023.94,5.40],[2024.00,5.10],[2024.06,5.30],[2024.12,5.50],[2024.18,5.10],[2024.24,5.20],[2024.30,5.30],[2024.38,8.20],[2024.42,5.10],[2024.46,5.30],[2024.52,5.10],[2024.58,5.20],[2024.65,7.60],[2024.70,5.30],[2024.74,6.00],[2024.80,5.10],[2024.86,5.20],[2024.92,5.30],[2024.95,5.10],[2024.98,5.30],[2025.00,5.10]
];
const peaksF: P[] = [
[2009.28,3.80],[2009.39,3.90],[2009.86,3.70],[2009.98,4.15],[2010.25,4.97],[2010.57,3.34],[2010.69,3.30],[2010.80,3.25],[2012.31,3.72],[2014.55,3.30],[2014.71,3.50],[2014.83,3.60],[2016.00,3.47],[2016.17,3.45],[2019.86,3.30],[2020.14,4.08],[2020.30,5.26],[2020.37,5.20],[2020.45,5.20],[2020.69,5.30],[2020.88,4.90],[2020.98,6.17],[2021.13,5.30],[2021.24,5.30],[2021.48,5.00],[2021.59,6.68],[2021.73,6.30],[2021.87,5.30],[2021.95,5.50],[2022.06,7.40],[2022.19,7.30],[2022.31,4.90],[2022.43,4.90],[2022.66,9.87],[2022.77,5.20],[2022.91,5.70],[2022.98,6.00],[2023.15,5.10],[2023.39,13.60],[2023.50,6.10],[2023.69,7.00],[2023.94,5.40],[2024.12,5.50],[2024.30,5.30],[2024.38,8.20],[2024.46,5.30],[2024.65,7.60],[2024.74,6.00],[2024.92,5.30],[2024.98,5.30]
];
const trendF: P[] = [[2006.0,0.82],[2025.0,5.00]];

// ---------- ticks ----------
const xTicks = [2006, 2008, 2010, 2012, 2014, 2016, 2018, 2020, 2022, 2024];
const ticksA = [0.01, 0.02, 0.03, 0.04];
const labelsA = ['0.01', '0.02', '0.03', '0.04'];
const ticksB = [50, 100, 150, 200, 250];
const labelsB = ['50.0 B', '100.0 B', '150.0 B', '200.0 B', '250.0 B'];
const ticksC = [10, 20, 30, 40];
const labelsC = ['10.0 Mb', '20.0 Mb', '30.0 Mb', '40.0 Mb'];
const ticksD = [5, 10, 15];
const labelsD = ['4.7 GB', '9.3 GB', '14.0 GB'];
const ticksE = [50, 100, 150];
const labelsE = ['50', '100', '150'];
const ticksF = [0, 5, 10];
const labelsF = ['0.0 B', '4.7 GB', '9.3 GB'];

const FONT = 'DejaVu Sans';
const FS = 17.4;
const NAME_FS = 17.9;
const TITLE_FS = 20.6;
const GW = 535, GH = 190;
const COLS = [207, 955];
const ROWS = [82, 395, 708];
const X_MIN = 2005.05, X_MAX = 2025.95;
const LEG_W = 117, LEG_H = 86, LEG_PAD = 9;

const panels = [
  { title: '(A)', col: 0, row: 0, name: 'Average Packet Rate (Mpps)', gap: 57, data: rateA, peaks: peaksA, trend: trendA, min: 0.00127, max: 0.0494, ticks: ticksA, labels: labelsA, legend: 'lr' },
  { title: '(B)', col: 1, row: 0, name: 'Average Packet Size (bytes)', gap: 86, data: sizeB, peaks: peaksB, trend: trendB, min: 44.2, max: 278.9, ticks: ticksB, labels: labelsB, legend: 'ur' },
  { title: '(C)', col: 0, row: 1, name: 'Traffic Rate (Mbps)', gap: 89, data: rateC, peaks: peaksC, trend: trendC, min: 0.7, max: 43.4, ticks: ticksC, labels: labelsC, legend: 'ul' },
  { title: '(D)', col: 1, row: 1, name: 'Traffic Received (GB)', gap: 89, data: recvD, peaks: peaksD, trend: trendD, min: 0.24, max: 19.59, ticks: ticksD, labels: labelsD, legend: 'ul' },
  { title: '(E)', col: 0, row: 2, name: 'Number of Packets (in Millions)', gap: 52, data: packetsE, peaks: peaksE, trend: trendE, min: 4.6, max: 178.4, ticks: ticksE, labels: labelsE, legend: 'lr' },
  { title: '(F)', col: 1, row: 2, name: 'Size of PCAP file (GB)', gap: 77, data: pcapF, peaks: peaksF, trend: trendF, min: -0.23, max: 14.31, ticks: ticksF, labels: labelsF, legend: 'ul' },
];

const XMARK = 'path://M0,1.4L1.4,0L5,3.6L8.6,0L10,1.4L6.4,5L10,8.6L8.6,10L5,6.4L1.4,10L0,8.6L3.6,5Z';

function toSeriesData(d: P[]) {
  return d.map(([x, y]) => [x, y === null ? '-' : y]);
}

function buildOption() {
  const grid: any[] = [];
  const xAxis: any[] = [];
  const yAxis: any[] = [];
  const series: any[] = [];
  const graphic: any[] = [];
  const txt = { color: '#000', fontFamily: FONT, fontSize: FS };
  const split = { show: true, lineStyle: { color: '#ebebeb', width: 1 } };

  panels.forEach((p, i) => {
    const left = COLS[p.col];
    const top = ROWS[p.row];
    grid.push({ left, top, width: GW, height: GH, show: true, borderColor: '#000', borderWidth: 1, backgroundColor: 'transparent', containLabel: false });
    xAxis.push({
      type: 'value', gridIndex: i, min: X_MIN, max: X_MAX,
      axisLine: { show: false },
      axisTick: { show: true, length: 5, lineStyle: { color: '#000', width: 1 }, customValues: xTicks },
      axisLabel: { ...txt, margin: 7, customValues: xTicks, formatter: (v: number) => String(Math.round(v)) },
      splitLine: split,
    });
    yAxis.push({
      type: 'value', gridIndex: i, min: p.min, max: p.max,
      name: p.name, nameLocation: 'middle', nameRotate: 90, nameGap: p.gap,
      nameTextStyle: { color: '#000', fontFamily: FONT, fontSize: NAME_FS },
      axisLine: { show: false },
      axisTick: { show: true, length: 5, lineStyle: { color: '#000', width: 1 }, customValues: p.ticks },
      axisLabel: {
        ...txt, margin: 9, customValues: p.ticks,
        formatter: (v: number) => {
          const k = p.ticks.findIndex((t) => Math.abs(t - v) < 1e-9);
          return k >= 0 ? p.labels[k] : '';
        },
      },
      splitLine: split,
    });
    series.push({
      name: 'data', type: 'line', xAxisIndex: i, yAxisIndex: i, data: toSeriesData(p.data),
      symbol: 'none', showSymbol: false, connectNulls: false, z: 2,
      lineStyle: { color: '#1f77b4', width: 2 }, itemStyle: { color: '#1f77b4' },
    });
    series.push({
      name: 'peaks', type: 'scatter', xAxisIndex: i, yAxisIndex: i, data: toSeriesData(p.peaks),
      symbol: XMARK, symbolSize: 6.5, z: 3, itemStyle: { color: '#ff0000' },
    });
    series.push({
      name: 'trend', type: 'line', xAxisIndex: i, yAxisIndex: i, data: toSeriesData(p.trend),
      symbol: 'none', showSymbol: false, z: 4,
      lineStyle: { color: '#ff7f0e', width: 3.3 }, itemStyle: { color: '#ff7f0e' },
    });

    // panel title
    graphic.push({
      type: 'text', x: left + GW / 2, y: top + GH + 50, z: 100,
      style: { text: p.title, fontSize: TITLE_FS, fontFamily: FONT, fill: '#000', align: 'center', verticalAlign: 'middle', textAlign: 'center', textVerticalAlign: 'middle' },
    });

    // legend box
    const bx = p.legend === 'ul' ? left + LEG_PAD : left + GW - LEG_PAD - LEG_W;
    const by = p.legend === 'lr' ? top + GH - LEG_PAD - LEG_H : top + LEG_PAD;
    graphic.push({
      type: 'rect', z: 100, shape: { x: bx, y: by, width: LEG_W, height: LEG_H, r: 4 },
      style: { fill: 'rgba(255,255,255,0.8)', stroke: '#cccccc', lineWidth: 1 },
    });
    graphic.push({ type: 'line', z: 101, shape: { x1: bx + 6, y1: by + 14, x2: bx + 42, y2: by + 14 }, style: { stroke: '#1f77b4', lineWidth: 2 } });
    graphic.push({ type: 'line', z: 101, shape: { x1: bx + 21, y1: by + 39, x2: bx + 27, y2: by + 45 }, style: { stroke: '#ff0000', lineWidth: 1.3 } });
    graphic.push({ type: 'line', z: 101, shape: { x1: bx + 27, y1: by + 39, x2: bx + 21, y2: by + 45 }, style: { stroke: '#ff0000', lineWidth: 1.3 } });
    graphic.push({ type: 'line', z: 101, shape: { x1: bx + 6, y1: by + 68, x2: bx + 42, y2: by + 68 }, style: { stroke: '#ff7f0e', lineWidth: 3.3 } });
    const names = ['data', 'peaks', 'trend'];
    const ys = [14, 42, 68];
    names.forEach((n, k) => {
      graphic.push({
        type: 'text', z: 101, x: bx + 57, y: by + ys[k],
        style: { text: n, fontSize: FS, fontFamily: FONT, fill: '#000', align: 'left', verticalAlign: 'middle', textAlign: 'left', textVerticalAlign: 'middle' },
      });
    });
  });

  return {
    animation: false,
    backgroundColor: '#ffffff',
    textStyle: { fontFamily: FONT },
    grid, xAxis, yAxis, series, graphic,
  };
}

export default function App() {
  const ref = useRef<HTMLDivElement>(null);
  useEffect(() => {
    if (!ref.current) return;
    const chart = echarts.init(ref.current, undefined, { renderer: 'svg' });
    chart.setOption(buildOption() as any);
    return () => chart.dispose();
  }, []);
  return <div ref={ref} style={{ position: 'absolute', left: 0, top: 0, width: 1655, height: 1009, background: '#fff' }} />;
}
